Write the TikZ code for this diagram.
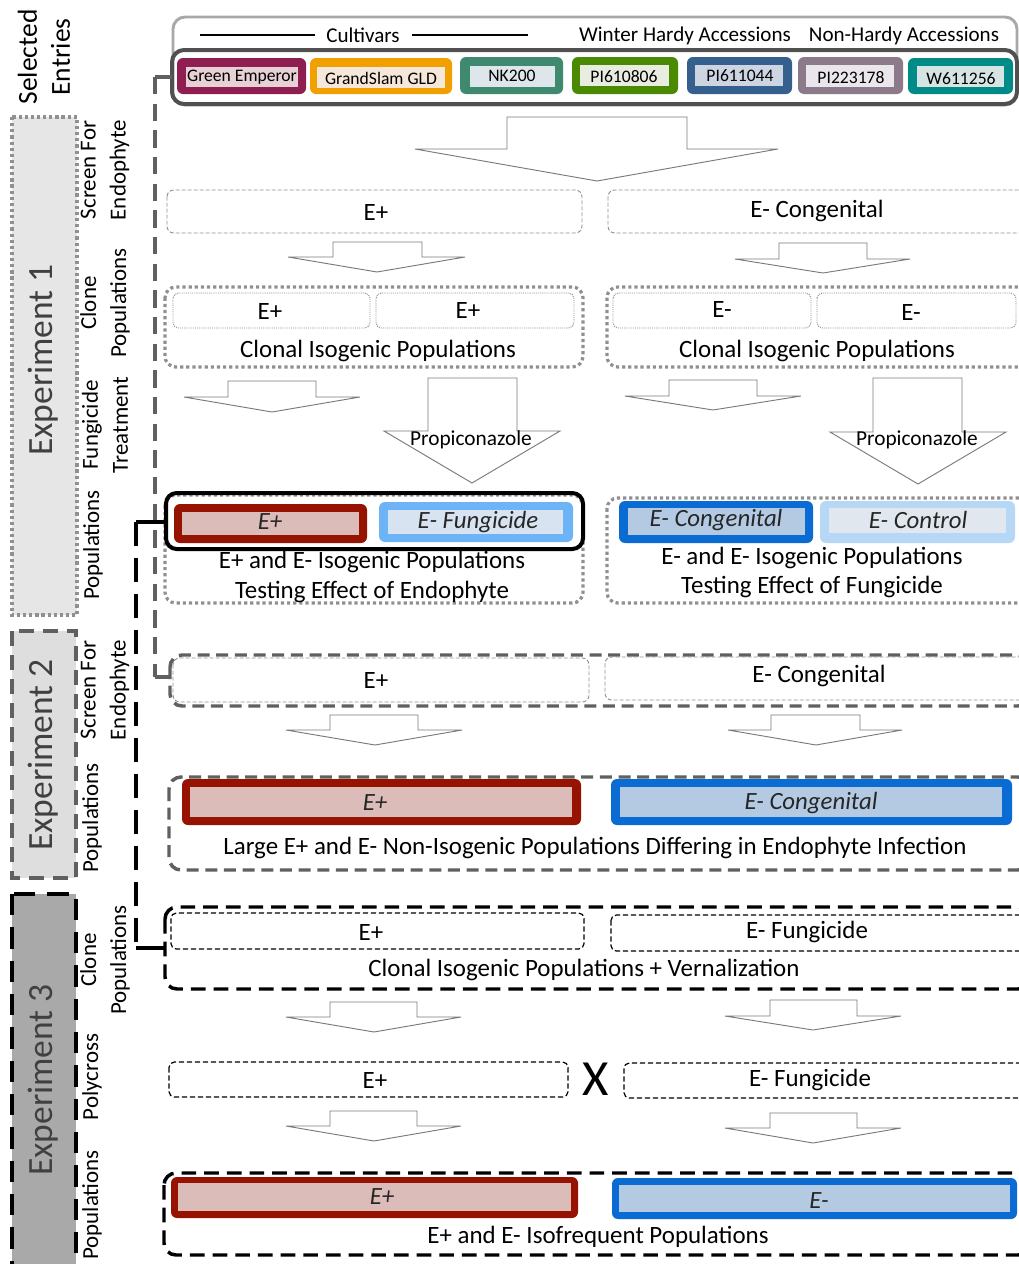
\documentclass[tikz,border=0pt]{standalone}
\usepackage{fontspec}
\setmainfont{Carlito}
\usepackage{xcolor}
\definecolor{geband}{HTML}{8E1F50}\definecolor{gefill}{HTML}{E8D1D6}
\definecolor{gsband}{HTML}{F0A000}\definecolor{gsfill}{HTML}{F6E7DB}
\definecolor{nkband}{HTML}{3F8A6F}\definecolor{nkfill}{HTML}{DDE7EB}
\definecolor{pabband}{HTML}{4A8A00}\definecolor{pabfill}{HTML}{E9EDDF}
\definecolor{pbcband}{HTML}{35608E}\definecolor{pbcfill}{HTML}{CDD5E2}
\definecolor{pcdband}{HTML}{8C7A8B}\definecolor{pcdfill}{HTML}{EBE6EC}
\definecolor{wband}{HTML}{008B88}\definecolor{wfill}{HTML}{D6E5E3}
\definecolor{epband}{HTML}{951300}\definecolor{epfill}{HTML}{DBBCB8}
\definecolor{ecband}{HTML}{0A6BD3}\definecolor{ecfill}{HTML}{B4CAE3}
\definecolor{efband}{HTML}{6CB4F6}\definecolor{effill}{HTML}{D7E3F0}
\definecolor{ectband}{HTML}{B6D8F6}\definecolor{ectfill}{HTML}{E0E7EE}
\definecolor{dotgray}{HTML}{909090}
\definecolor{dashgray}{HTML}{606060}
\definecolor{expone}{HTML}{E6E6E6}
\definecolor{exptwo}{HTML}{DEDEDE}
\definecolor{expthree}{HTML}{A9A9A9}
\definecolor{topouter}{HTML}{A8A8A8}
\definecolor{topinner}{HTML}{505050}
\definecolor{arrgray}{HTML}{7A7A7A}
\definecolor{exptext}{HTML}{404040}

\tikzset{
  lbl/.style={inner sep=0.75pt, font=\fontsize{18.7}{22}\selectfont},
  ital/.style={inner sep=0.75pt, font=\fontsize{18.6}{22}\selectfont\itshape, text=black!85},
  entry/.style={inner sep=0.75pt, font=\fontsize{13.2}{16}\selectfont},
  head/.style={inner sep=0.75pt, font=\fontsize{15.8}{18}\selectfont},
  stage/.style={rotate=90, align=center, inner sep=0.75pt, font=\fontsize{17.2}{22.5}\selectfont},
  expt/.style={rotate=90, inner sep=0.75pt, text=exptext, font=\fontsize{26.6}{30}\selectfont},
  blockarr/.style={draw=arrgray, fill=white, line width=0.7pt},
  band/.style={rounded corners=4.5pt},
  dotouter/.style={draw=dotgray, line width=2.4pt, dash pattern=on 2.4pt off 2.2pt, rounded corners=8pt},
  dotinner/.style={draw=dotgray, line width=0.7pt, dash pattern=on 0.8pt off 0.8pt, rounded corners=4pt},
  dashthin/.style={draw=dotgray, line width=0.7pt, dash pattern=on 3pt off 1.5pt, rounded corners=5pt},
  dashblk/.style={draw=black, line width=0.9pt, dash pattern=on 4pt off 2pt, rounded corners=4pt},
  grayouter/.style={draw=dashgray, line width=2.6pt, dash pattern=on 9pt off 5pt, rounded corners=9pt},
  blkouter/.style={draw=black, line width=2.6pt, dash pattern=on 11pt off 6pt, rounded corners=9pt},
  conn/.style={line width=2.4pt}
}

\begin{document}
\begin{tikzpicture}[x=0.75pt,y=0.75pt,yscale=-1,xscale=1]
\useasboundingbox (0,0) rectangle (1019,1264);
\clip (0,0) rectangle (1019,1264);

%Shape: Rectangle [Experiment 1]
\draw [fill=expone, draw=dotgray, line width=2.4pt, dash pattern=on 2.4pt off 2.2pt] (12,117) rectangle (77,615) ;
%Shape: Rectangle [Experiment 2]
\draw [fill=exptwo, draw=dashgray, line width=2.8pt, dash pattern=on 11pt off 7pt] (12,631) rectangle (76,878) ;
%Shape: Rectangle [Experiment 3]
\draw [fill=expthree, draw=black, line width=2.8pt, dash pattern=on 16pt off 9pt] (12,894) rectangle (76,1275) ;

% Text Node
\node [stage, font=\fontsize{20.6}{24.8}\selectfont] (sel) at (44,57) {Selected\\Entries};
\node [expt] (ex1) at (43,360) {Experiment 1};
\node [expt] (ex2) at (43,755) {Experiment 2};
\node [expt] (ex3) at (43,1080) {Experiment 3};
\node [stage] (st1) at (105,170) {Screen For\\Endophyte};
\node [stage] (st2) at (105,303) {Clone\\Populations};
\node [stage] (st3) at (105,425) {Fungicide\\Treatment};
\node [stage] (st4) at (93,545) {Populations};
\node [stage] (st5) at (105,690) {Screen For\\Endophyte};
\node [stage] (st6) at (92,818) {Populations};
\node [stage] (st7) at (105,960) {Clone\\Populations};
\node [stage] (st8) at (92,1077) {Polycross};
\node [stage] (st9) at (92,1205) {Populations};

%Shape: Rounded Rect [selected entries]
\draw [draw=topouter, line width=2.2pt, rounded corners=9pt] (173,17) rectangle (1017,105) ;
\draw [draw=topinner, line width=3pt, rounded corners=9pt] (172,50) rectangle (1017,104) ;
\draw [line width=0.8pt] (200,35) -- (315,35) (412,35) -- (528,35) ;
\node [head] (cult) at (363,35) {Cultivars};
\node [head] (whard) at (685,36) {Winter Hardy Accessions};
\node [head] (nhard) at (904,36) {Non-Hardy Accessions};

%Shape: entries
\fill [band, geband] (177,58) rectangle (306,94) ; \fill [gefill] (186,67) rectangle (298,87) ;
\fill [band, gsband] (310,58) rectangle (452,94) ; \fill [gsfill] (317,67) rectangle (445,88) ;
\fill [band, nkband] (460,57) rectangle (563,94) ; \fill [nkfill] (470,66) rectangle (555,87) ;
\fill [band, pabband] (572,57) rectangle (678,94) ; \fill [pabfill] (580,65) rectangle (669,86) ;
\fill [band, pbcband] (687,57) rectangle (792,94) ; \fill [pbcfill] (695,65) rectangle (783,86) ;
\fill [band, pcdband] (798,57) rectangle (903,94) ; \fill [pcdfill] (806,65) rectangle (894,87) ;
\fill [band, wband] (908,58) rectangle (1013,94) ; \fill [wfill] (917,66) rectangle (1004,87) ;
\node [entry] (ge) at (242,77) {Green Emperor};
\node [entry] (gs) at (381,78) {GrandSlam GLD};
\node [entry] (nk) at (512,76) {NK200};
\node [entry] (pab) at (624,77) {PI610806};
\node [entry] (pbc) at (740,76) {PI611044};
\node [entry] (pcd) at (851,78) {PI223178};
\node [entry] (wst) at (961,79) {W611256};

%Shape: Down Arrow
\draw [blockarr] (507,117) -- (687,117) -- (687,149) -- (778,149) -- (597,181) -- (415,149) -- (507,149) -- cycle ;

%Shape: Rounded Rect [exp 1 screen]
\draw [dashthin] (167,190) rectangle (582,233) ;
\draw [dashthin] (608,190) rectangle (1030,233) ;
\node [lbl] (sca) at (376,212) {E+};
\node [lbl] (scb) at (817,211) {E- Congenital};

%Shape: Down Arrow
\draw [blockarr] (333,242) -- (422,242) -- (422,257) -- (465,257) -- (377,272) -- (288,257) -- (333,257) -- cycle ;
\draw [blockarr] (779,243) -- (867,243) -- (867,259) -- (910,259) -- (823,273) -- (735,259) -- (779,259) -- cycle ;

%Shape: Rounded Rect [exp 1 clone]
\draw [dotouter] (165,287) rectangle (583,367) ;
\draw [dotinner] (173,293) rectangle (370,328) ;
\draw [dotinner] (376,293) rectangle (574,328) ;
\draw [dotouter] (607,287) rectangle (1030,367) ;
\draw [dotinner] (613,293) rectangle (811,328) ;
\draw [dotinner] (817,293) rectangle (1016,328) ;
\node [lbl] (cla) at (270,311) {E+};
\node [lbl] (clb) at (468,310) {E+};
\node [lbl] (clc) at (378,351) {Clonal Isogenic Populations};
\node [lbl] (cld) at (722,309) {E-};
\node [lbl] (cle) at (911,312) {E-};
\node [lbl] (clf) at (817,351) {Clonal Isogenic Populations};

%Shape: Down Arrow
\draw [blockarr] (228,381) -- (316,381) -- (316,397) -- (360,397) -- (272,412) -- (184,397) -- (228,397) -- cycle ;
\draw [blockarr] (428,378) -- (517,378) -- (517,431) -- (560,431) -- (472,483) -- (384,431) -- (428,431) -- cycle ;
\draw [blockarr] (669,380) -- (757,380) -- (757,396) -- (801,396) -- (713,410) -- (625,396) -- (669,396) -- cycle ;
\draw [blockarr] (873,378) -- (962,378) -- (962,432) -- (1006,432) -- (918,484) -- (830,432) -- (873,432) -- cycle ;
\node [lbl, font=\fontsize{16}{19}\selectfont] (pra) at (471,440) {Propiconazole};
\node [lbl, font=\fontsize{16}{19}\selectfont] (prb) at (917,440) {Propiconazole};

%Shape: Rounded Rect [exp 1 populations]
\draw [dotouter] (165,495) rectangle (583,603) ;
\draw [dotouter] (607,498) rectangle (1030,603) ;
\draw [line width=3pt, rounded corners=8pt] (166,493) rectangle (583,549) ;
\fill [band, epband] (174,504) rectangle (367,543) ; \fill [epfill] (182,512) rectangle (359,535) ;
\fill [band, efband] (379,502) rectangle (573,542) ; \fill [effill] (388,510) rectangle (563,534) ;
\fill [band, ecband] (619,501) rectangle (813,543) ; \fill [ecfill] (628,508) rectangle (805,535) ;
\fill [band, ectband] (820,501) rectangle (1015,543) ; \fill [ectfill] (829,508) rectangle (1006,533) ;
\node [ital] (ppa) at (270,522) {E+};
\node [ital] (ppb) at (478,522) {E- Fungicide};
\node [ital] (ppc) at (716,520) {E- Congenital};
\node [ital] (ppd) at (918,520) {E- Control};
\node [lbl] (ppe) at (372,562) {E+ and E- Isogenic Populations};
\node [lbl] (ppf) at (372,592) {Testing Effect of Endophyte};
\node [lbl] (ppg) at (812,558) {E- and E- Isogenic Populations};
\node [lbl] (pph) at (812,587) {Testing Effect of Fungicide};

%Shape: Rounded Rect [exp 2 screen]
\draw [grayouter] (170,655) rectangle (1030,706) ;
\draw [dashthin] (173,658) rectangle (589,702) ;
\draw [dashthin] (605,657) rectangle (1030,700) ;
\node [lbl] (sta) at (376,680) {E+};
\node [lbl] (stb) at (819,676) {E- Congenital};

%Shape: Down Arrow
\draw [blockarr] (330,715) -- (418,715) -- (418,730) -- (462,730) -- (375,745) -- (286,730) -- (330,730) -- cycle ;
\draw [blockarr] (771,715) -- (860,715) -- (860,730) -- (902,730) -- (816,745) -- (728,730) -- (771,730) -- cycle ;

%Shape: Rounded Rect [exp 2 populations]
\draw [grayouter] (169,777) rectangle (1030,870) ;
\fill [band, epband] (182,779) rectangle (581,825) ; \fill [epfill] (190,787) rectangle (572,817) ;
\fill [band, ecband] (611,779) rectangle (1012,825) ; \fill [ecfill] (620,787) rectangle (1002,817) ;
\node [ital] (pta) at (375,803) {E+};
\node [ital] (ptb) at (811,803) {E- Congenital};
\node [lbl] (ptc) at (595,848) {Large E+ and E- Non-Isogenic Populations Differing in Endophyte Infection};

%Shape: Rounded Rect [exp 3 clone]
\draw [blkouter] (165,907) rectangle (1030,989) ;
\draw [dashblk] (171,913) rectangle (584,949) ;
\draw [dashblk] (611,915) rectangle (1030,951) ;
\node [lbl] (cta) at (371,932) {E+};
\node [lbl] (ctb) at (807,932) {E- Fungicide};
\node [lbl] (ctc) at (584,970) {Clonal Isogenic Populations + Vernalization};

%Shape: Down Arrow
\draw [blockarr] (330,1002) -- (417,1002) -- (417,1017) -- (461,1017) -- (374,1032) -- (286,1017) -- (330,1017) -- cycle ;
\draw [blockarr] (770,1000) -- (857,1000) -- (857,1016) -- (901,1016) -- (813,1030) -- (725,1016) -- (770,1016) -- cycle ;

%Shape: Rounded Rect [exp 3 polycross]
\draw [dashblk] (169,1062) rectangle (568,1097) ;
\draw [dashblk] (624,1063) rectangle (1030,1098) ;
\node [lbl] (pxa) at (375,1080) {E+};
\node [lbl, font=\fontsize{38}{40}\selectfont] (pxx) at (596,1079) {X};
\node [lbl] (pxb) at (810,1080) {E- Fungicide};

%Shape: Down Arrow
\draw [blockarr] (330,1111) -- (417,1111) -- (417,1126) -- (461,1126) -- (374,1141) -- (286,1126) -- (330,1126) -- cycle ;
\draw [blockarr] (770,1113) -- (857,1113) -- (857,1128) -- (901,1128) -- (813,1143) -- (725,1128) -- (770,1128) -- cycle ;

%Shape: Rounded Rect [exp 3 populations]
\draw [blkouter] (164,1173) rectangle (1030,1255) ;
\fill [band, epband] (171,1177) rectangle (578,1218) ; \fill [epfill] (178,1183) rectangle (571,1211) ;
\fill [band, ecband] (612,1178) rectangle (1017,1219) ; \fill [ecfill] (619,1185) rectangle (1010,1212) ;
\node [ital] (qta) at (382,1197) {E+};
\node [ital] (qtb) at (819,1201) {E-};
\node [lbl] (qtc) at (598,1237) {E+ and E- Isofrequent Populations};

% Connectors
\coordinate (selL) at (172,77);
\coordinate (selJ) at (155,77);
\coordinate (scrJ) at (155,677);
\coordinate (scrL) at (170,677);
\draw [conn, draw=dashgray] (selL) -- (selJ) ;
\draw [conn, draw=dashgray, dash pattern=on 13pt off 7pt] (selJ) -- (scrJ) ;
\draw [conn, draw=dashgray] (scrJ) -- (scrL) ;
\coordinate (popL) at (166,522);
\coordinate (popJ) at (136,522);
\coordinate (cloJ) at (136,948);
\coordinate (cloL) at (165,948);
\draw [conn] (popL) -- (popJ) ;
\draw [conn, line width=2.8pt, dash pattern=on 18pt off 9pt] (popJ) -- (cloJ) ;
\draw [conn] (cloJ) -- (cloL) ;

\end{tikzpicture}
\end{document}
